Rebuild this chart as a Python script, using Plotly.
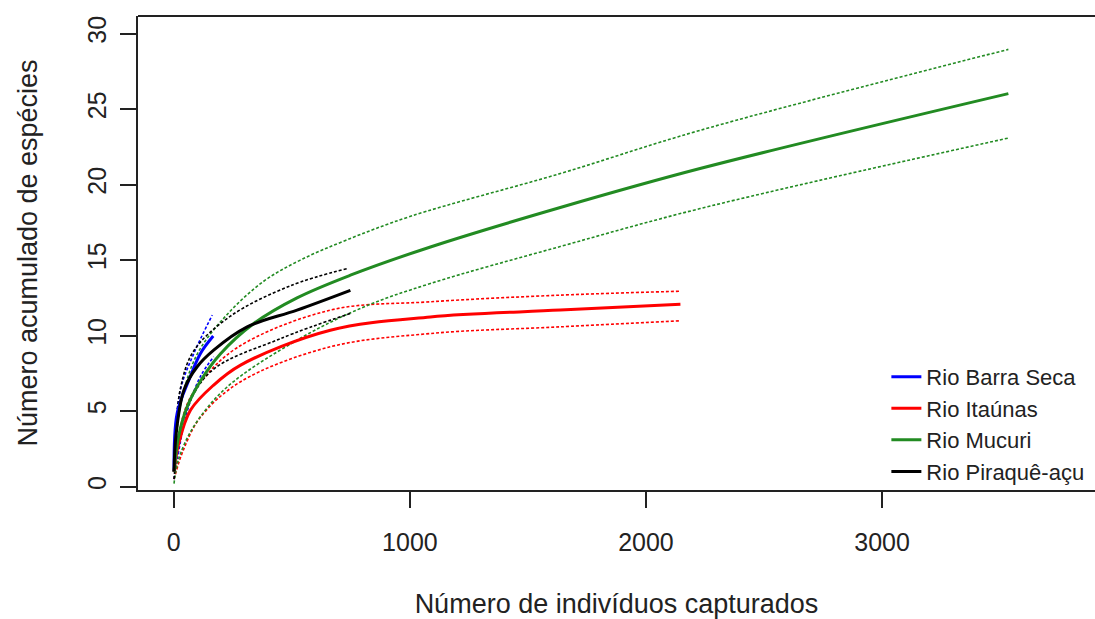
import plotly.graph_objects as go

# ---- data (rarefaction curves) ----
barra_x = [1, 14, 64, 113, 167]
barra_y = [1.0, 4.85, 7.06, 8.82, 9.97]
barra_up_x = [1, 28, 85, 163]
barra_up_y = [1.5, 6.4, 8.82, 11.36]
barra_lo_x = [1, 57, 113, 169]
barra_lo_y = [0.5, 5.0, 7.3, 8.6]

itau_x = [1, 20, 71, 169, 283, 663, 1087, 1637, 2146]
itau_y = [1.0, 2.8, 5.07, 6.73, 8.05, 10.36, 11.24, 11.69, 12.08]
itau_up_x = [1, 50, 113, 268, 663, 1087, 1637, 2146]
itau_up_y = [1.5, 5.2, 6.9, 9.2, 11.69, 12.24, 12.68, 12.94]
itau_lo_x = [1, 40, 113, 283, 663, 1087, 1637, 2146]
itau_lo_y = [0.5, 2.4, 4.6, 6.95, 9.26, 10.14, 10.58, 10.98]

mucu_x = [1, 20, 57, 113, 198, 339, 522, 748, 1087, 1637, 2229, 3535]
mucu_y = [1.0, 3.3, 5.3, 7.0, 8.8, 10.8, 12.5, 14.0, 15.87, 18.48, 21.06, 26.02]
mucu_up_x = [1, 30, 100, 226, 381, 536, 727, 1003, 1637, 2229, 3535]
mucu_up_y = [1.3, 5.5, 8.8, 11.4, 13.6, 15.0, 16.3, 17.9, 20.73, 23.59, 28.95]
mucu_lo_x = [1, 20, 85, 226, 522, 805, 1087, 1637, 2229, 3535]
mucu_lo_y = [0.2, 1.8, 4.0, 6.6, 9.7, 11.9, 13.45, 15.9, 18.41, 23.08]

pira_x = [1, 10, 43, 99, 169, 311, 522, 748]
pira_y = [1.0, 3.5, 6.4, 7.94, 9.04, 10.58, 11.69, 13.0]
pira_up_x = [1, 28, 85, 241, 494, 734]
pira_up_y = [1.5, 6.5, 9.0, 11.3, 13.3, 14.44]
pira_lo_x = [1, 40, 155, 452, 748]
pira_lo_y = [0.5, 4.5, 7.6, 9.8, 11.47]

names = ["Rio Barra Seca", "Rio Itaúnas", "Rio Mucuri", "Rio Piraquê-açu"]
colors = ["#0000FF", "#FF0000", "#228B22", "#000000"]

series = [
    (barra_x, barra_y, barra_up_x, barra_up_y, barra_lo_x, barra_lo_y),
    (itau_x, itau_y, itau_up_x, itau_up_y, itau_lo_x, itau_lo_y),
    (mucu_x, mucu_y, mucu_up_x, mucu_up_y, mucu_lo_x, mucu_lo_y),
    (pira_x, pira_y, pira_up_x, pira_up_y, pira_lo_x, pira_lo_y),
]

x_ticks = [0, 1000, 2000, 3000]
y_ticks = [0, 5, 10, 15, 20, 25, 30]

fig = go.Figure()
for name, col, (mx, my, ux, uy, lx, ly) in zip(names, colors, series):
    for xx, yy in ((ux, uy), (lx, ly)):
        fig.add_trace(go.Scatter(x=xx, y=yy, mode="lines", showlegend=False,
                                 line=dict(color=col, width=1.6, dash="3px,2px", shape="spline"),
                                 hoverinfo="skip"))
for name, col, (mx, my, ux, uy, lx, ly) in zip(names, colors, series):
    fig.add_trace(go.Scatter(x=mx, y=my, mode="lines", name=name,
                             line=dict(color=col, width=3, shape="spline")))

font_family = "Liberation Sans, Arial, sans-serif"
fig.update_layout(
    width=1095, height=619,
    margin=dict(l=138, r=0, t=16, b=129),
    paper_bgcolor="white", plot_bgcolor="white",
    font=dict(family=font_family, color="#222222", size=26),
    showlegend=True,
    legend=dict(x=0.782, y=0.283, xanchor="left", yanchor="top",
                bgcolor="rgba(0,0,0,0)", font=dict(size=22, color="#222222"),
                tracegroupgap=0, itemwidth=30),
    xaxis=dict(range=[-151.6, 3902], tickvals=x_ticks, ticktext=[str(v) for v in x_ticks],
               showgrid=False, zeroline=False, showline=True, linecolor="#222222", linewidth=2,
               ticks="outside", ticklen=16, tickwidth=2, tickcolor="#222222",
               tickfont=dict(size=25), automargin=False, ticklabelstandoff=13,
               title=dict(text="Número de indivíduos capturados", font=dict(size=27), standoff=41)),
    yaxis=dict(range=[-0.22, 31.16], tickvals=y_ticks, ticktext=[str(v) for v in y_ticks],
               showgrid=False, zeroline=False, showline=True, linecolor="#222222", linewidth=2,
               ticks="outside", ticklen=16, tickwidth=2, tickcolor="#222222",
               tickangle=-90, tickfont=dict(size=25), automargin=False, ticklabelstandoff=4,
               title=dict(text="Número acumulado de espécies", font=dict(size=27), standoff=38)),
    shapes=[dict(type="line", xref="paper", yref="paper", x0=0, x1=1, y0=1, y1=1,
                 line=dict(color="#222222", width=2))],
)

fig.write_html("out.html", config={"displayModeBar": False},
               post_script="document.body.style.margin='0';document.body.style.overflow='hidden';")
